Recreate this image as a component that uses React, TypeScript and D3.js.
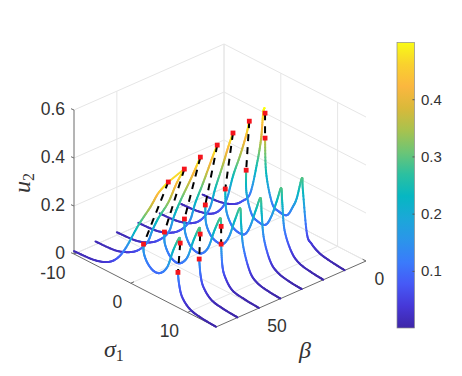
import React from "react";
import * as d3 from "d3";

const sigmaTicks = [-10, 0, 10];
const betaTicks = [0, 50];
const uTicks = [0, 0.2, 0.4, 0.6];
const colorbarTicks = [0.1, 0.2, 0.3, 0.4];
const parulaStops = ["#3e26a8","#4638d8","#4659f6","#3a7bfb","#2b95ea","#1ba8d8","#06b7c2","#2cc0a0","#6cc576","#a8c24e","#d9b93a","#fbb73f","#f9d12e","#f9fb15"];

type P = [number, number];
const upper70: P[] = [[-10,.012],[-6.5,.018],[-4.06,.039],[-2.4,.075],[-.91,.135],[1.36,.259],[3.46,.36],[4.86,.435],[6.6,.502]];
const upper60: P[] = [[-10,.013],[-6.6,.018],[-4.2,.039],[-2.4,.07],[-.82,.1225],[.05,.183],[1.1,.246],[2.85,.333],[4.3,.43],[5.65,.505]];
const upper50: P[] = [[-10,.012],[-6.7,.018],[-4.3,.039],[-2.5,.072],[-.85,.125],[.05,.2],[1.2,.28],[2.9,.385],[3.9,.45],[4.7,.504]];
const upper40: P[] = [[-10,.012],[-6.8,.018],[-4.4,.039],[-2.6,.072],[-.95,.13],[.05,.218],[1.45,.32],[3,.44],[3.9,.505]];
const upper30: P[] = [[-10,.012],[-6.9,.018],[-4.45,.039],[-2.7,.075],[-1.2,.14],[-.2,.237],[1,.339],[2.06,.435],[2.9,.504]];
const upper20: P[] = [[-10,.012],[-7,.018],[-4.5,.039],[-2.9,.08],[-1.87,.139],[-.82,.244],[.4,.342],[1.45,.438],[2,.503]];
const upper10: P[] = [[-10,.012],[-7,.018],[-4.6,.038],[-3,.07],[-1.6,.12],[-.4,.26],[.3,.37],[.66,.48],[.9,.505]];

const middle70: P[] = [[2.24,.19],[2.3,.153],[2.94,.12],[4,.1],[5.2,.106],[6.43,.146],[7.5,.23],[8.53,.292],[8.7,.273]];
const middle60: P[] = [[2.15,.2],[2.2,.155],[2.9,.118],[3.9,.1],[5,.105],[6.2,.145],[7.3,.23],[8.3,.292],[8.44,.268]];
const middle50: P[] = [[1.9,.212],[2,.16],[2.7,.12],[3.7,.102],[4.9,.105],[6.1,.145],[7.2,.23],[8.2,.292],[8.36,.26]];
const middle40: P[] = [[1.8,.23],[1.9,.16],[2.6,.12],[3.6,.102],[4.9,.105],[6,.15],[7,.23],[7.92,.291],[8.1,.23],[8.5,.136],[9.67,.047],[11,.016],[13,.005],[15,.001]];
const middle30: P[] = [[1.54,.254],[1.7,.17],[2.5,.122],[3.5,.103],[4.9,.106],[5.9,.15],[6.9,.23],[7.75,.292],[7.95,.23],[8.35,.13],[9.5,.048],[10.9,.017],[13,.005],[15,.001]];
const middle20: P[] = [[1.45,.292],[1.5,.2],[2.35,.124],[3.4,.104],[4.85,.106],[5.9,.155],[6.85,.23],[7.6,.292],[7.8,.235],[8.2,.125],[9.4,.05],[10.8,.018],[13,.006],[15,.001]];
const middle10: P[] = [[1,.381],[1.2,.237],[2.24,.125],[3.4,.105],[4.86,.107],[5.9,.155],[6.6,.2],[7.48,.293],[7.66,.245],[8.36,.074],[9.2,.04],[10.6,.018],[12.5,.008],[15,.001]];

const lower70: P[] = [[8.3,.146],[8.5,.1],[9.05,.052],[10.45,.018],[12.5,.006],[15,.001]];
const lower60: P[] = [[8.27,.162],[8.5,.1],[9,.055],[10.4,.018],[12.5,.006],[15,.001]];
const lower50: P[] = [[8.36,.186],[8.55,.105],[9,.06],[10.3,.018],[12.5,.006],[15,.001]];

const branches: { beta: number; parts: P[][] }[] = [
  { beta: 10, parts: [upper10, middle10] },
  { beta: 20, parts: [upper20, middle20] },
  { beta: 30, parts: [upper30, middle30] },
  { beta: 40, parts: [upper40, middle40] },
  { beta: 50, parts: [upper50, middle50, lower50] },
  { beta: 60, parts: [upper60, middle60, lower60] },
  { beta: 70, parts: [upper70, middle70, lower70] },
];

// short yellow run seen between the two front-most upper folds
const topLinkBeta: [number, number] = [70, 60];
const topLinkSigma: [number, number] = [6.6, 5.65];
const topLinkU: [number, number] = [0.47, 0.47];

// unstable links: beta, [sigma,u] at each end
const unstable: { beta: number; a: P; b: P }[] = [
  { beta: 10, a: [1,.485], b: [1,.381] },
  { beta: 20, a: [2,.503], b: [1.45,.292] },
  { beta: 30, a: [2.9,.504], b: [1.54,.254] },
  { beta: 40, a: [3.9,.505], b: [1.8,.23] },
  { beta: 50, a: [4.7,.504], b: [1.9,.212] },
  { beta: 60, a: [5.65,.505], b: [2.15,.2] },
  { beta: 70, a: [6.6,.502], b: [2.24,.19] },
  { beta: 50, a: [8.36,.26], b: [8.36,.186] },
  { beta: 60, a: [8.44,.268], b: [8.27,.162] },
  { beta: 70, a: [8.7,.273], b: [8.3,.146] },
];

const W = 462, H = 376;
const sx = d3.scaleLinear().domain([-10, 15]).range([0, 1]);
const bx = d3.scaleLinear().domain([0, 70]).range([0, 1]);
const uz = d3.scaleLinear().domain([0, 0.6]).range([0, 144]);
const backX = 224, backY = 188;
const project = (s: number, b: number, u: number): P => [
  backX + 142 * sx(s) - 150 * bx(b),
  backY + 73 * sx(s) + 66 * bx(b) - uz(u),
];
const parula = d3.scaleLinear<string>()
  .domain(parulaStops.map((_, i) => i / (parulaStops.length - 1) * 0.5))
  .range(parulaStops)
  .interpolate(d3.interpolateRgb);
const cbY = d3.scaleLinear().domain([0.001, 0.5]).range([328, 42.5]);

function dense(pts: P[]): P[] {
  const out: P[] = [];
  for (let i = 0; i < pts.length - 1; i++) {
    const p0 = pts[Math.max(0, i - 1)], p1 = pts[i], p2 = pts[i + 1], p3 = pts[Math.min(pts.length - 1, i + 2)];
    const n = 12;
    for (let j = 0; j < n; j++) {
      const t = j / n;
      const f = (a: number, b: number, c: number, d: number) =>
        0.5 * (2 * b + (c - a) * t + (2 * a - 5 * b + 4 * c - d) * t * t + (3 * b - a - 3 * c + d) * t * t * t);
      out.push([f(p0[0], p1[0], p2[0], p3[0]), Math.max(0, f(p0[1], p1[1], p2[1], p3[1]))]);
    }
  }
  out.push(pts[pts.length - 1]);
  return out;
}

const GRID = "#e6e6e6";
const AXIS = "#6b6b6b";
const TEXT = "#333333";
const SANS = "'Liberation Sans', Arial, sans-serif";
const SERIF = "'Liberation Serif', 'DejaVu Serif', serif";

export default function App() {
  const L = (a: P, b: P, c: string, k: string, w = 1) => (
    <line key={k} x1={a[0]} y1={a[1]} x2={b[0]} y2={b[1]} stroke={c} strokeWidth={w} />
  );
  const grid: React.ReactNode[] = [];
  uTicks.forEach((u) => {
    grid.push(L(project(-10, 70, u), project(-10, 0, u), GRID, `gl${u}`));
    grid.push(L(project(-10, 0, u), project(15, 0, u), GRID, `gr${u}`));
  });
  sigmaTicks.forEach((s) => {
    grid.push(L(project(s, 0, 0), project(s, 0, 0.6), GRID, `vs${s}`));
    grid.push(L(project(s, 0, 0), project(s, 70, 0), GRID, `fs${s}`));
  });
  betaTicks.forEach((b) => {
    grid.push(L(project(-10, b, 0), project(-10, b, 0.6), GRID, `vb${b}`));
    grid.push(L(project(-10, b, 0), project(15, b, 0), GRID, `fb${b}`));
  });
  const linkA = project(topLinkSigma[0], topLinkBeta[0], 0.502);
  const linkB = project(topLinkSigma[1], topLinkBeta[1], 0.505);
  return (
    <svg width={W} height={H} style={{ position: "absolute", left: 0, top: 0 }} fontFamily={SANS}>
      <defs>
        <linearGradient id="cb" x1="0" y1="1" x2="0" y2="0">
          {parulaStops.map((c, i) => (
            <stop key={i} offset={i / (parulaStops.length - 1)} stopColor={c} />
          ))}
        </linearGradient>
      </defs>
      <rect width={W} height={H} fill="#fff" />
      <g>{grid}</g>
      {L(project(-10, 70, 0), project(-10, 70, 0.6), AXIS, "ay")}
      {L(project(-10, 70, 0), project(15, 70, 0), AXIS, "as")}
      {L(project(15, 70, 0), project(15, 0, 0), AXIS, "ab")}
      {uTicks.map((u) => {
        const p = project(-10, 70, u);
        return (
          <g key={u}>
            <line x1={p[0]} y1={p[1]} x2={p[0] - 3} y2={p[1] - 1.3} stroke={AXIS} />
            <text x={p[0] - 9} y={p[1] + 5} textAnchor="end" fontSize={17.5} fill={TEXT}>{u}</text>
          </g>
        );
      })}
      {sigmaTicks.map((s) => {
        const p = project(s, 70, 0);
        const q = project(s, 68.5, 0);
        return (
          <g key={s}>
            <line x1={p[0]} y1={p[1]} x2={q[0]} y2={q[1]} stroke={AXIS} />
            <text x={p[0] - 8.5} y={p[1] + 25} textAnchor="end" fontSize={17.5} fill={TEXT}>{s}</text>
          </g>
        );
      })}
      {betaTicks.map((b) => {
        const p = project(15, b, 0);
        const q = project(14.4, b, 0);
        return (
          <g key={b}>
            <line x1={p[0]} y1={p[1]} x2={q[0]} y2={q[1]} stroke={AXIS} />
            <text x={p[0] + 8.5} y={p[1] + 23.5} textAnchor="start" fontSize={17.5} fill={TEXT}>{b}</text>
          </g>
        );
      })}
      <text transform="translate(30,193) rotate(-90)" fontFamily={SERIF} fontSize={24} fill={TEXT}>
        <tspan fontStyle="italic">u</tspan><tspan fontSize={16} dy={4}>2</tspan>
      </text>
      <text x={104} y={357} fontFamily={SERIF} fontSize={24} fill={TEXT}>
        <tspan fontStyle="italic">σ</tspan><tspan fontSize={16} dy={4}>1</tspan>
      </text>
      <text x={299} y={358} fontFamily={SERIF} fontSize={24} fontStyle="italic" fill={TEXT}>β</text>

      {branches.map((br) =>
        br.parts.map((part, pi) => {
          const pts = dense(part);
          return (
            <g key={`${br.beta}-${pi}`} strokeWidth={2} strokeLinecap="round">
              {pts.slice(1).map((q, i) => {
                const a = project(pts[i][0], br.beta, pts[i][1]);
                const b = project(q[0], br.beta, q[1]);
                return <line key={i} x1={a[0]} y1={a[1]} x2={b[0]} y2={b[1]} stroke={parula((pts[i][1] + q[1]) / 2)} />;
              })}
            </g>
          );
        })
      )}
      <line x1={linkA[0]} y1={linkA[1]} x2={linkB[0]} y2={linkB[1]} stroke={parula(topLinkU[0])} strokeWidth={2} />
      {unstable.map((d, i) => {
        const a = project(d.a[0], d.beta, d.a[1]);
        const b = project(d.b[0], d.beta, d.b[1]);
        return (
          <g key={i}>
            <line x1={a[0]} y1={a[1]} x2={b[0]} y2={b[1]} stroke="#000" strokeWidth={2} strokeDasharray="7 6" />
            {[a, b].map((p, j) => (
              <rect key={j} x={p[0] - 2.4} y={p[1] - 2.4} width={4.8} height={4.8} fill="#f5141c" />
            ))}
          </g>
        );
      })}

      <rect x={397} y={42.5} width={17.5} height={285.5} fill="url(#cb)" stroke="#8c8c8c" strokeWidth={0.7} />
      {colorbarTicks.map((t) => (
        <g key={t}>
          <line x1={412.5} x2={414.5} y1={cbY(t)} y2={cbY(t)} stroke="#555" />
          <text x={421} y={cbY(t) + 5} fontSize={15} fill={TEXT}>{t}</text>
        </g>
      ))}
    </svg>
  );
}
